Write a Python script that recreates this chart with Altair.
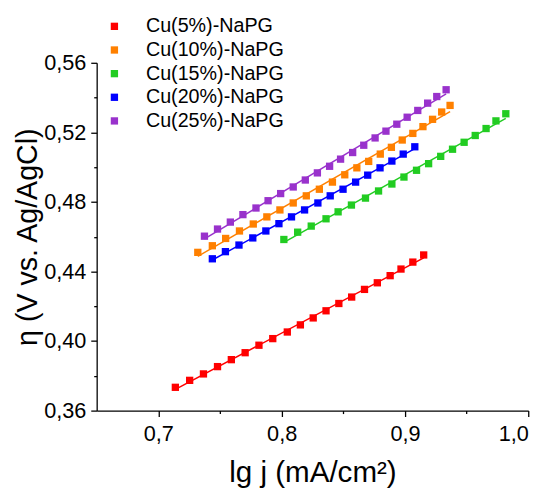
import altair as alt
import pandas as pd

names = ["Cu(5%)-NaPG", "Cu(10%)-NaPG", "Cu(15%)-NaPG", "Cu(20%)-NaPG", "Cu(25%)-NaPG"]
colors = ["#FF0000", "#FF8000", "#22CC22", "#0000FF", "#9932CC"]

x5 = [0.7138, 0.7254, 0.7366, 0.7480, 0.7592, 0.7704, 0.7816, 0.7928, 0.8046, 0.8152,
      0.8256, 0.8360, 0.8464, 0.8568, 0.8672, 0.8776, 0.8880, 0.8968, 0.9064, 0.9152]
y5 = [0.3734, 0.3774, 0.3811, 0.3853, 0.3893, 0.3933, 0.3976, 0.4014, 0.4052, 0.4093,
      0.4133, 0.4174, 0.4216, 0.4253, 0.4297, 0.4335, 0.4376, 0.4414, 0.4454, 0.4495]

x10 = [0.7320, 0.7438, 0.7546, 0.7658, 0.7770, 0.7880, 0.7986, 0.8094, 0.8200, 0.8306, 0.8412,
       0.8512, 0.8610, 0.8706, 0.8800, 0.8890, 0.8978, 0.9064, 0.9146, 0.9224, 0.9298, 0.9366]
y10 = [0.4510, 0.4548, 0.4590, 0.4633, 0.4673, 0.4714, 0.4754, 0.4794, 0.4835, 0.4873, 0.4914,
       0.4956, 0.4996, 0.5033, 0.5075, 0.5114, 0.5156, 0.5194, 0.5233, 0.5275, 0.5317, 0.5355]

x15 = [0.8018, 0.8130, 0.8240, 0.8360, 0.8458, 0.8566, 0.8680, 0.8786, 0.8894, 0.8992,
       0.9094, 0.9192, 0.9290, 0.9386, 0.9480, 0.9570, 0.9658, 0.9738, 0.9818]
y15 = [0.4584, 0.4626, 0.4661, 0.4703, 0.4743, 0.4782, 0.4822, 0.4863, 0.4903, 0.4943,
       0.4982, 0.5020, 0.5062, 0.5103, 0.5143, 0.5182, 0.5222, 0.5266, 0.5307]

x20 = [0.7438, 0.7544, 0.7654, 0.7766, 0.7872, 0.7978, 0.8080, 0.8186, 0.8294, 0.8394,
       0.8498, 0.8600, 0.8698, 0.8798, 0.8894, 0.8986, 0.9080]
y20 = [0.4473, 0.4514, 0.4552, 0.4593, 0.4633, 0.4675, 0.4714, 0.4754, 0.4794, 0.4835,
       0.4873, 0.4914, 0.4954, 0.4996, 0.5035, 0.5075, 0.5117]

x25 = [0.7374, 0.7480, 0.7584, 0.7686, 0.7792, 0.7890, 0.7992, 0.8094, 0.8192, 0.8290, 0.8389,
       0.8478, 0.8576, 0.8666, 0.8758, 0.8846, 0.8934, 0.9018, 0.9104, 0.9184, 0.9258, 0.9334]
y25 = [0.4603, 0.4644, 0.4684, 0.4727, 0.4765, 0.4807, 0.4848, 0.4886, 0.4926, 0.4967, 0.5005,
       0.5046, 0.5084, 0.5126, 0.5168, 0.5207, 0.5247, 0.5287, 0.5326, 0.5368, 0.5406, 0.5445]

x_ticks = [0.7, 0.75, 0.8, 0.85, 0.9, 0.95, 1.0]
y_ticks = [0.36, 0.38, 0.40, 0.42, 0.44, 0.46, 0.48, 0.50, 0.52, 0.54, 0.56]

rows = []
for name, xs_, ys_ in zip(names, [x5, x10, x15, x20, x25], [y5, y10, y15, y20, y25]):
    for a, b in zip(xs_, ys_):
        rows.append({"series": name, "x": a, "y": b})
df = pd.DataFrame(rows)

FONT = "Liberation Sans"

x_axis = alt.Axis(
    values=x_ticks, grid=False, title="lg j (mA/cm²)",
    labelExpr="round(datum.value*100) % 10 == 0 ? replace(format(datum.value, '.1f'), '.', ',') : ''",
    tickSize={"condition": {"test": "round(datum.value*100) % 10 != 0", "value": 3}, "value": 6},
    labelFont=FONT, labelFontSize=22, labelColor="black", labelPadding=7,
    titleFont=FONT, titleFontSize=30, titleFontWeight="normal", titleColor="black", titlePadding=14,
    domainColor="black", domainWidth=1.3, tickColor="black", tickWidth=1.3,
)
y_axis = alt.Axis(
    values=y_ticks, grid=False, title="η (V vs. Ag/AgCl)",
    labelExpr="round(datum.value*100) % 4 == 0 ? replace(format(datum.value, '.2f'), '.', ',') : ''",
    tickSize={"condition": {"test": "round(datum.value*100) % 4 != 0", "value": 3}, "value": 6},
    labelFont=FONT, labelFontSize=22, labelColor="black", labelPadding=5,
    titleFont=FONT, titleFontSize=29, titleFontWeight="normal", titleColor="black", titlePadding=1,
    domainColor="black", domainWidth=1.3, tickColor="black", tickWidth=1.3,
)

xs = alt.Scale(domain=[0.65, 1.0], nice=False, zero=False)
ys = alt.Scale(domain=[0.36, 0.56], nice=False, zero=False)
cs = alt.Scale(domain=names, range=colors)

legend = alt.Legend(
    title=None, orient="none", legendX=8, legendY=-47,
    symbolType="square", symbolSize=55, symbolStrokeWidth=0, symbolOpacity=1,
    labelFont=FONT, labelFontSize=20, labelColor="black",
    labelOffset=22, rowPadding=4, padding=0,
)

base = alt.Chart(df)

pts = base.mark_square(size=55, opacity=1).encode(
    x=alt.X("x:Q", scale=xs, axis=x_axis),
    y=alt.Y("y:Q", scale=ys, axis=y_axis),
    color=alt.Color("series:N", scale=cs, sort=names, legend=legend),
)

fit = base.transform_regression("x", "y", groupby=["series"]).mark_line(strokeWidth=1.5).encode(
    x=alt.X("x:Q", scale=xs, axis=x_axis),
    y=alt.Y("y:Q", scale=ys, axis=y_axis),
    color=alt.Color("series:N", scale=cs, sort=names, legend=legend),
)

chart = alt.layer(pts, fit).properties(
    width=438, height=353,
    autosize=alt.AutoSizeParams(type="none"),
    padding={"left": 90, "top": 52, "right": 17, "bottom": 80},
).configure_view(stroke=None)

chart.save("out.html", embed_options={"renderer": "svg", "actions": False})
